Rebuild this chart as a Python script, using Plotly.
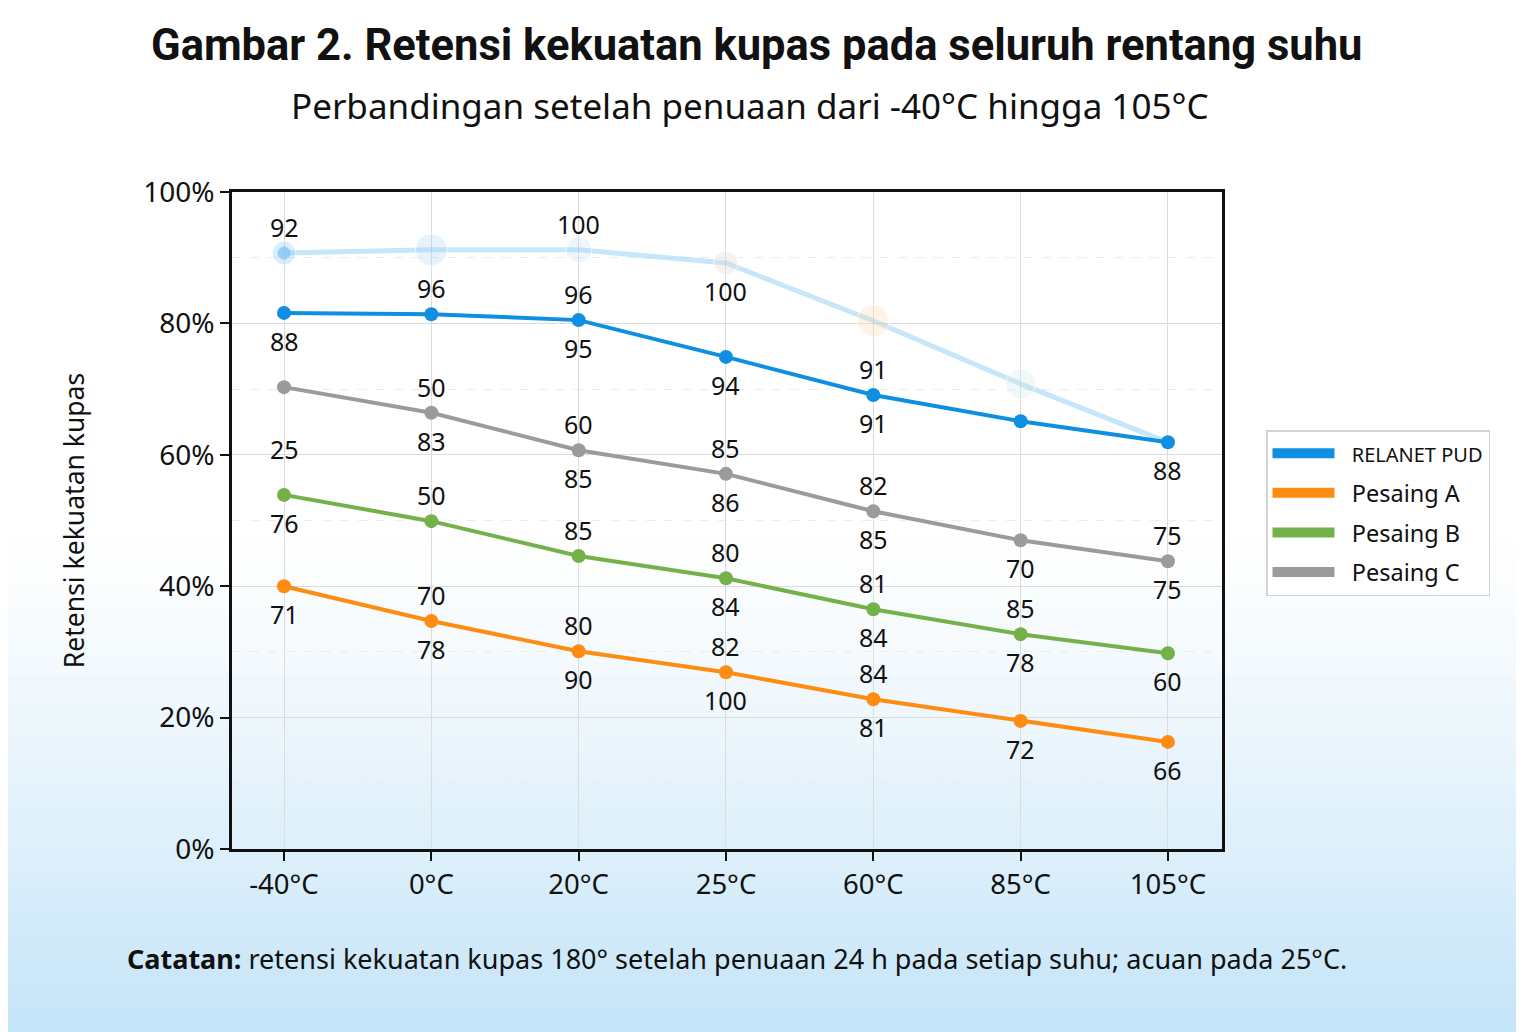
import plotly.graph_objects as go

# ---------------- data ----------------
categories = ["-40°C", "0°C", "20°C", "25°C", "60°C", "85°C", "105°C"]

relanet_pud = [81.6, 81.4, 80.5, 74.9, 69.1, 65.1, 61.9]
pesaing_a = [40.0, 34.7, 30.1, 26.9, 22.8, 19.5, 16.3]
pesaing_b = [53.9, 49.9, 44.6, 41.2, 36.5, 32.7, 29.8]
pesaing_c = [70.3, 66.4, 60.7, 57.1, 51.4, 47.0, 43.8]
ghost_line = [90.7, 91.2, 91.2, 89.2, 80.4, 70.8, 61.9]

labels_ghost_above = ["92", "", "100", "", "", "", ""]
labels_ghost_below = ["", "", "", "100", "", "", ""]
labels_relanet_above = ["", "96", "96", "", "91", "", ""]
labels_relanet_below = ["88", "", "95", "94", "91", "", "88"]
labels_c_above = ["", "50", "60", "85", "82", "", "75"]
labels_c_below = ["", "83", "85", "86", "85", "70", "75"]
labels_b_above = ["25", "50", "85", "80", "81", "85", ""]
labels_b_below = ["76", "", "", "84", "84", "78", "60"]
labels_a_above = ["", "70", "80", "82", "84", "", ""]
labels_a_below = ["71", "78", "90", "100", "81", "72", "66"]

y_tick_vals = [0, 20, 40, 60, 80, 100]
y_tick_text = ["0%", "20%", "40%", "60%", "80%", "100%"]

legend_names = ["RELANET PUD", "Pesaing A", "Pesaing B", "Pesaing C"]

# ---------------- style ----------------
BLUE = "#0f8fe2"
ORANGE = "#ff8c12"
GREEN = "#74b14a"
GRAY = "#9b9b9b"
FONT = "Noto Sans"
legend_colors = [BLUE, ORANGE, GREEN, GRAY]

ghost_halo_colors = ["rgba(140,205,245,0.45)", "rgba(160,210,245,0.35)",
                     "rgba(170,215,245,0.30)", "rgba(225,220,210,0.45)",
                     "rgba(255,215,170,0.40)", "rgba(215,230,230,0.45)",
                     "rgba(0,0,0,0)"]
ghost_halo_sizes = [24, 32, 26, 24, 32, 30, 10]

OFF = 8  # page body margin
W, H = 1524 - OFF, 1032 - OFF
L, R, T, B = 232 - OFF, 1222 - OFF, 192 - OFF, 849 - OFF
PW, PH = R - L, B - T


def px_x(xp):
    return (xp - OFF - L) / PW


def px_y(yp):
    return (B - (yp - OFF)) / PH


fig = go.Figure()

# background gradient (decoration)
shapes = []
n = 40
top_px, bot_px = 540, 1032
for i in range(n):
    y0px = top_px + (bot_px - top_px) * i / n
    y1px = top_px + (bot_px - top_px) * (i + 1) / n
    t = ((i + 0.5) / n) ** 1.2
    r = int(255 - t * (255 - 196))
    g = int(255 - t * (255 - 228))
    b = int(255 - t * (255 - 248))
    shapes.append(dict(type="rect", xref="paper", yref="paper",
                       x0=px_x(0) - 0.02, x1=px_x(1540),
                       y0=px_y(y1px + 1), y1=px_y(y0px),
                       fillcolor=f"rgb({r},{g},{b})", line_width=0, layer="below"))

# ghost (faded) line
fig.add_trace(go.Scatter(x=categories, y=ghost_line, mode="lines",
                         line=dict(color="rgba(120,195,242,0.42)", width=5),
                         showlegend=False, hoverinfo="skip"))
fig.add_trace(go.Scatter(x=categories, y=ghost_line, mode="markers",
                         marker=dict(size=ghost_halo_sizes, color=ghost_halo_colors),
                         showlegend=False, hoverinfo="skip"))
fig.add_trace(go.Scatter(x=categories[:1], y=ghost_line[:1], mode="markers",
                         marker=dict(size=13, color="rgba(130,200,245,0.8)"),
                         showlegend=False, hoverinfo="skip"))

series = [
    (pesaing_c, GRAY),
    (pesaing_b, GREEN),
    (pesaing_a, ORANGE),
    (relanet_pud, BLUE),
]
for vals, col in series:
    fig.add_trace(go.Scatter(x=categories, y=vals, mode="lines+markers",
                             line=dict(color=col, width=4),
                             marker=dict(size=14, color=col),
                             showlegend=False))

# legend entries (rectangular swatches)
for i, (name, col) in enumerate(zip(legend_names, legend_colors)):
    if i == 0:
        txt = f"&nbsp;&nbsp;<span style='font-size:20px'>{name}</span>"
    else:
        txt = f"&nbsp;&nbsp;{name}"
    fig.add_trace(go.Scatter(x=[None], y=[None], mode="lines", name=txt,
                             line=dict(color=col, width=14),
                             legendgroup=f"g{i}", showlegend=True))

# data labels
annotations = []
label_sets = [
    (ghost_line, labels_ghost_above, labels_ghost_below),
    (relanet_pud, labels_relanet_above, labels_relanet_below),
    (pesaing_c, labels_c_above, labels_c_below),
    (pesaing_b, labels_b_above, labels_b_below),
    (pesaing_a, labels_a_above, labels_a_below),
]
for vals, above, below in label_sets:
    for c, v, la, lb in zip(categories, vals, above, below):
        if la:
            shift = 26
            if vals is pesaing_b and c == "-40°C":
                shift = 46
            annotations.append(dict(x=c, y=v, text=la, showarrow=False, yshift=shift,
                                    font=dict(family=FONT, size=25, color="#111")))
        if lb:
            annotations.append(dict(x=c, y=v, text=lb, showarrow=False, yshift=-28,
                                    font=dict(family=FONT, size=25, color="#111")))

# titles and note
annotations.append(dict(xref="paper", yref="paper", x=px_x(756), y=px_y(46),
                        text="<b>Gambar 2. Retensi kekuatan kupas pada seluruh rentang suhu</b>",
                        showarrow=False, xanchor="center", yanchor="middle",
                        font=dict(family="Roboto", size=43.5, color="#111")))
annotations.append(dict(xref="paper", yref="paper", x=px_x(750), y=px_y(106),
                        text="Perbandingan setelah penuaan dari -40°C hingga 105°C",
                        showarrow=False, xanchor="center", yanchor="middle",
                        font=dict(family=FONT, size=35, color="#111")))
annotations.append(dict(xref="paper", yref="paper", x=px_x(125), y=px_y(958),
                        text="<b>Catatan:</b> retensi kekuatan kupas 180° setelah penuaan 24 h pada setiap suhu; acuan pada 25°C.",
                        showarrow=False, xanchor="left", yanchor="middle",
                        font=dict(family=FONT, size=27, color="#111")))

fig.update_layout(
    width=W, height=H, autosize=False,
    margin=dict(l=L, r=W - R, t=T, b=H - B),
    paper_bgcolor="white",
    plot_bgcolor="rgba(255,255,255,0.55)",
    shapes=shapes,
    annotations=annotations,
    font=dict(family=FONT, size=23, color="#111"),
    legend=dict(x=px_x(1266), y=px_y(430), xanchor="left", yanchor="top",
                bgcolor="white", bordercolor="#d4d4d4", borderwidth=1.5,
                font=dict(family=FONT, size=23.5, color="#111"),
                tracegroupgap=6, itemwidth=62),
)

fig.update_xaxes(type="category", categoryorder="array", categoryarray=categories,
                 range=[-0.353, 6.367],
                 showline=True, linecolor="#111", linewidth=2.5, mirror=True,
                 ticks="outside", ticklen=9, tickwidth=2, tickcolor="#111",
                 showgrid=True, gridcolor="#dcdcdc", gridwidth=1.2,
                 tickfont=dict(family=FONT, size=27.5, color="#111"), zeroline=False)
fig.update_yaxes(range=[0, 100], tickvals=y_tick_vals, ticktext=y_tick_text,
                 showline=True, linecolor="#111", linewidth=2.5, mirror=True,
                 ticks="outside", ticklen=9, tickwidth=2, tickcolor="#111",
                 showgrid=True, gridcolor="#dcdcdc", gridwidth=1.2,
                 minor=dict(dtick=10, showgrid=True, gridcolor="#ececec", griddash="dash", ticks=""),
                 tickfont=dict(family=FONT, size=28, color="#111"), zeroline=False,
                 title=dict(text="Retensi kekuatan kupas", standoff=52,
                            font=dict(family=FONT, size=26.5, color="#111")))

fig.write_html("out.html")
